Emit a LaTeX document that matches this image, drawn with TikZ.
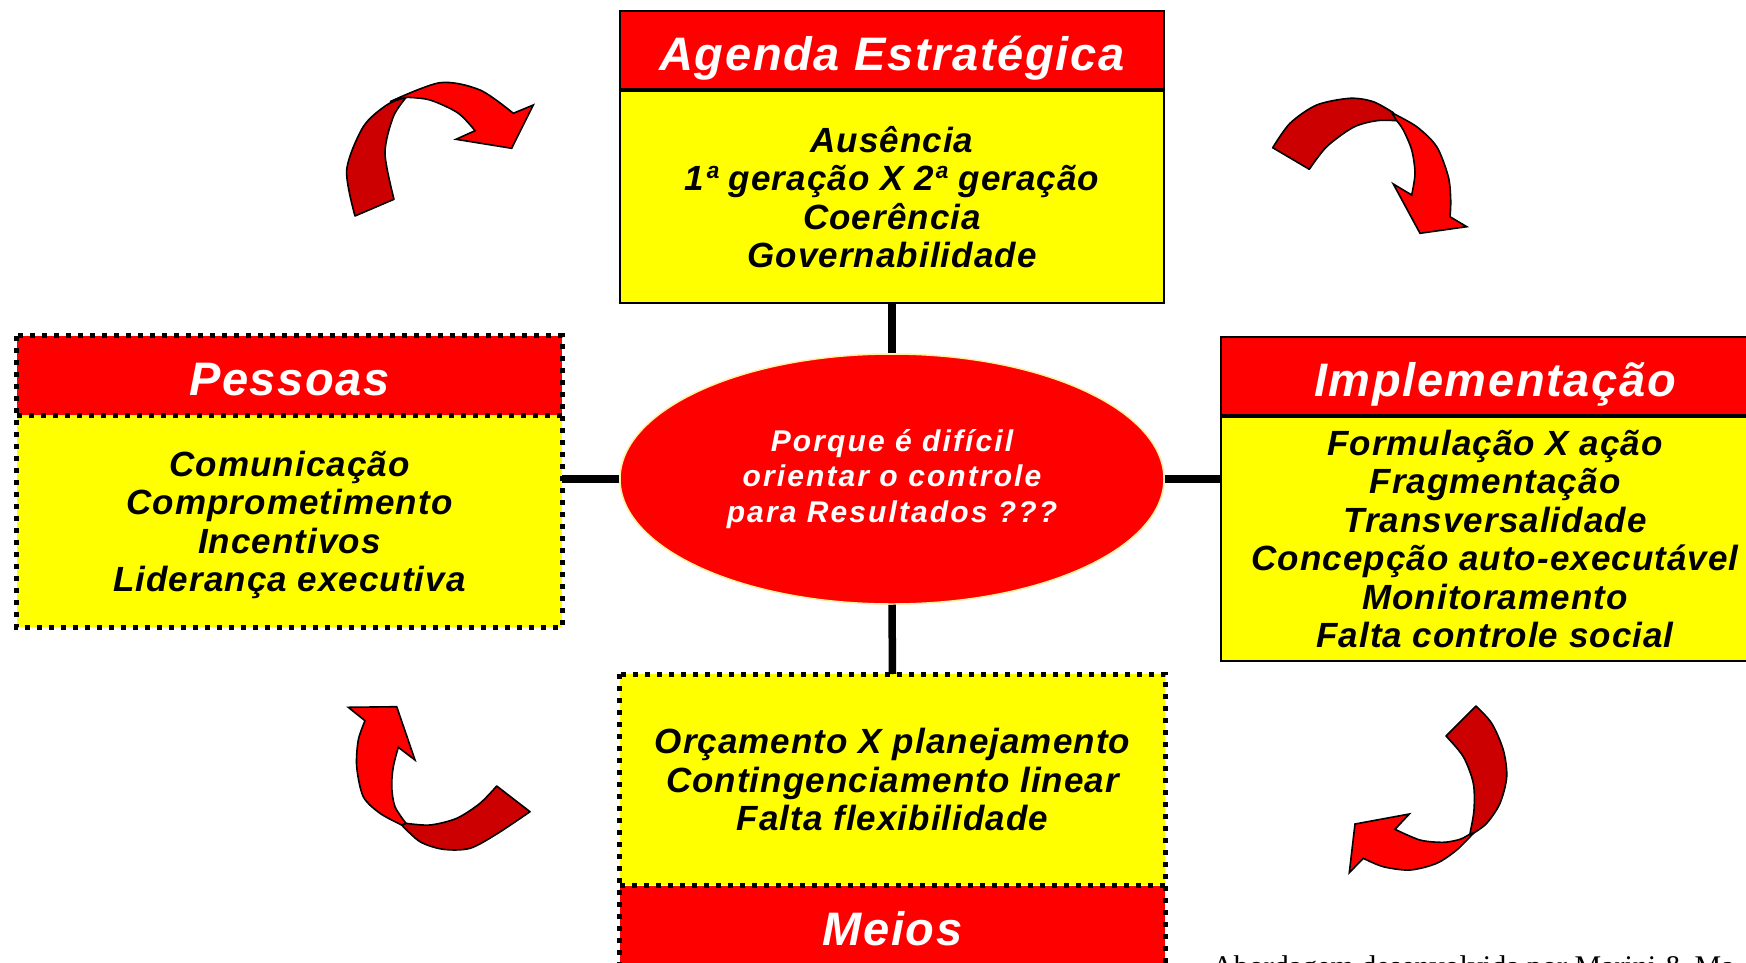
\documentclass[tikz,border=0pt]{standalone}
\usepackage{fontspec}
\setmainfont{Liberation Sans}
\newfontfamily\hfont[LetterSpace=3.5]{Liberation Sans}
\newfontfamily\bfont[LetterSpace=3]{Liberation Sans}
\newfontfamily\efont[LetterSpace=7]{Liberation Sans}
\newfontfamily\srfont{Liberation Serif}
\usetikzlibrary{shapes.geometric}
\definecolor{dkred}{HTML}{CC0000}
\definecolor{pred}{HTML}{FF0000}
\definecolor{pyel}{HTML}{FFFF00}
\definecolor{edgeyel}{HTML}{FFF0A0}
\tikzset{
 hdr/.style={fill=pred, text=white, inner sep=0, text height=40pt, text depth=0pt, font=\hfont\bfseries\itshape\fontsize{47}{52}\selectfont},
 bodybox/.style={fill=pyel, text=black, inner sep=0, align=center, font=\bfont\bfseries\itshape\fontsize{35}{38.4}\selectfont, execute at begin node={\rule{0pt}{0.95em}}},
 solidedge/.style={draw=black, line width=2pt},
 dotborder/.style={draw=black, line width=5pt, dash pattern=on 5pt off 7pt},
 conn/.style={draw=black, line width=7.5pt},
 darkpart/.style={fill=dkred, draw=black, line width=1.6pt, line join=round},
 brightpart/.style={fill=pred, draw=black, line width=1.6pt, line join=miter},
}
\begin{document}
\begin{tikzpicture}[x=1pt,y=-1pt]
\clip (0,0) rectangle (1746,962);
\fill[white] (0,0) rectangle (1746,962);

% Agenda
\node[hdr, solidedge, minimum width=544, minimum height=78] (agH) at (892,50) {Agenda Estratégica};
\node[bodybox, solidedge, minimum width=544, minimum height=212, anchor=north] (agB) at (agH.south) {Ausência\\1ª geração X 2ª geração\\Coerência\\Governabilidade};

% Pessoas
\node[hdr, minimum width=545, minimum height=79] (peH) at (289.5,375.5) {Pessoas};
\node[bodybox, minimum width=545, minimum height=212, anchor=north] (peB) at (peH.south) {Comunicação\\Comprometimento\\Incentivos\\\raisebox{0pt}[\height][0pt]{Liderança executiva}};
\draw[dotborder] (peH.north west) rectangle (peB.south east);
\draw[dotborder] (peH.south west) -- (peH.south east);

% Implementacao
\node[hdr, solidedge, minimum width=548, minimum height=78] (imH) at (1495,376) {Implementação};
\node[bodybox, solidedge, minimum width=548, minimum height=244, anchor=north] (imB) at (imH.south) {Formulação X ação\\Fragmentação\\Transversalidade\\Concepção auto-executável\\Monitoramento\\Falta controle social};

% Meios
\node[bodybox, minimum width=545, minimum height=211, anchor=north] (meB) at (892.5,674) {Orçamento X planejamento\\Contingenciamento linear\\Falta flexibilidade};
\node[hdr, minimum width=545, minimum height=80, anchor=north] (meH) at (meB.south) {Meios};
\draw[dotborder] (meB.north west) rectangle (meH.south east);
\draw[dotborder] (meH.north west) -- (meH.north east);

% Ellipse
\node[ellipse, fill=pred, draw=edgeyel, line width=1.5pt, minimum width=544, minimum height=250, inner sep=0, align=center, text=white, font=\efont\bfseries\itshape\fontsize{30}{35.5}\selectfont] (ell) at (892,479) {Porque é difícil\\orientar o controle\\para Resultados ???};

% connectors
\draw[conn] (agB.south) -- (ell.north);
\draw[conn] (ell.south) -- (meB.north);
\draw[conn] (ell.west) -- (ell.west -| peB.east);
\draw[conn] (ell.east) -- (ell.east -| imB.west);

% arrow top-left
\path[darkpart] plot[smooth] coordinates {(355,216) (346.7,170) (363.3,126.7) (386.7,105) (406.7,96.7)} -- plot[smooth] coordinates {(406.7,96.7) (393.3,116.7) (385,153.3) (394,199.3)} -- cycle;
\path[brightpart] plot[smooth] coordinates {(390,101.7) (440,82.7) (480,90) (513.3,113.3)} -- (533.3,105) -- (511.7,148.3) -- (456,139.3) -- plot[smooth] coordinates {(475,130.7) (458,113) (430,100) (406.7,97.3)} -- cycle;

% arrow top-right
\path[darkpart] plot[smooth] coordinates {(1272.7,147.7) (1290,123.3) (1316.7,105) (1350,98.3) (1373.3,101.7) (1393.3,112.7)} -- plot[smooth] coordinates {(1396.7,120.7) (1376.7,120.7) (1353.3,127.3) (1326.7,146.7) (1309.3,169.3)} -- cycle;
\path[brightpart] plot[smooth] coordinates {(1391.7,112.7) (1416.7,126.7) (1436.7,146.7) (1448.3,176.7) (1450.7,200) (1450,216.7)} -- (1466.7,226.7) -- (1420,233.3) -- (1393.3,184) -- plot[smooth] coordinates {(1411.7,195) (1415,173.3) (1411.7,150) (1403.3,130) (1396.7,120.7)} -- cycle;

% arrow bottom-left
\path[darkpart] plot[smooth] coordinates {(401.7,825) (420,841.7) (443.3,849.3) (470,848.3) (496.7,834) (530,811.7)} -- plot[smooth] coordinates {(496.7,786) (480,803.3) (456.7,818.3) (430,825) (406,823.3)} -- cycle;
\path[brightpart] (348.3,707.3) -- (396.7,706.7) -- (415,760) -- plot[smooth] coordinates {(398.3,747.3) (393.3,766.7) (391.7,786.7) (395,806.7) (406,823.3)} -- plot[smooth] coordinates {(401.7,825) (380,813.3) (363.3,796.7) (356.7,766.7) (358.3,740) (365,720.7)} -- cycle;

% arrow bottom-right
\path[darkpart] plot[smooth] coordinates {(1476,706) (1491.7,723.3) (1503.3,750) (1506.7,776.7) (1500,803.3) (1486.7,823.3) (1473.3,833.3)} -- plot[smooth] coordinates {(1470,833.3) (1474,810) (1473.3,783.3) (1463.3,756.7) (1446,736)} -- cycle;
\path[brightpart] plot[smooth] coordinates {(1473.3,833.3) (1456.7,850) (1436.7,863.3) (1410,870) (1383.3,866.7) (1363.3,858.3)} -- (1349.3,872.7) -- (1355,824) -- (1409.3,814) -- plot[smooth] coordinates {(1395,829.3) (1420,840) (1443.3,842.3) (1460,839.3) (1470,834)} -- cycle;

% source note
\node[anchor=north west, inner sep=0, font=\srfont\fontsize{30}{34}\selectfont] (src) at (1212,955) {Abordagem desenvolvida por Marini \& Ma};
\end{tikzpicture}
\end{document}
